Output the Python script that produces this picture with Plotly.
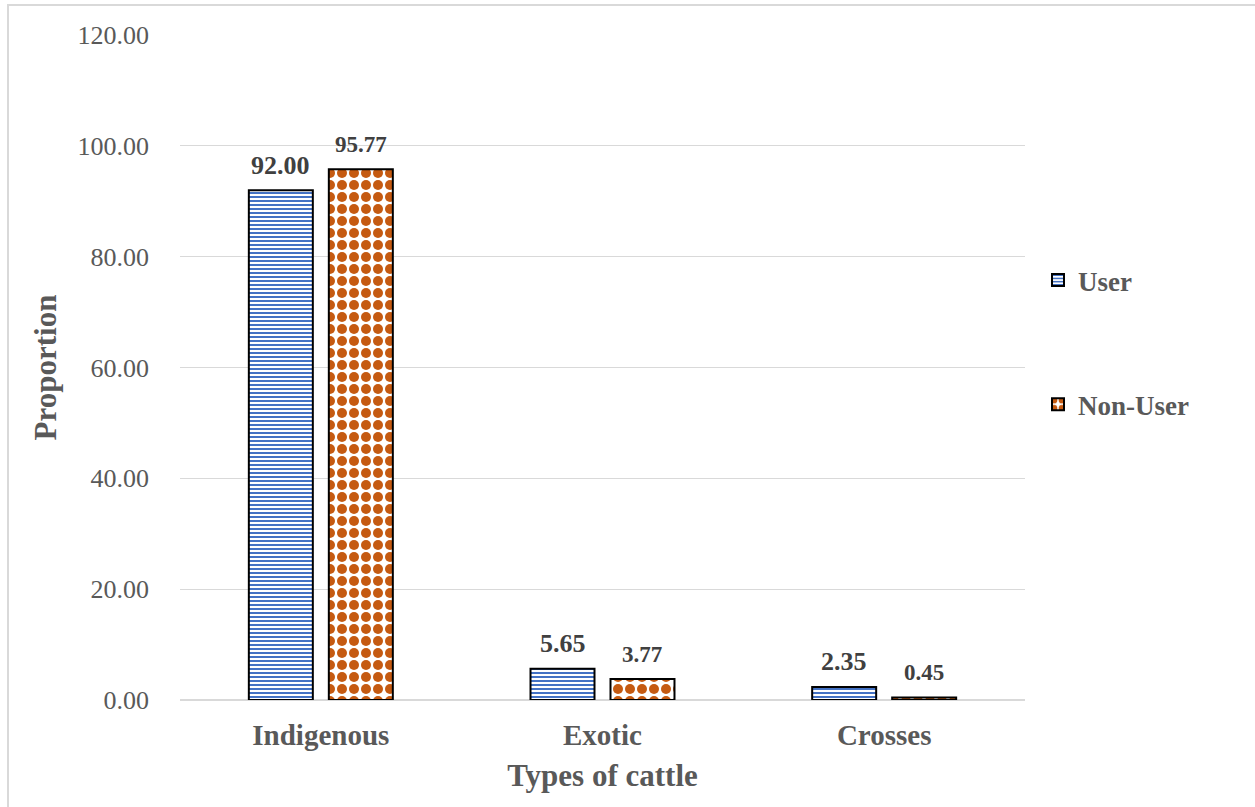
import plotly.graph_objects as go

categories = ["Indigenous", "Exotic", "Crosses"]
user_values = [92.00, 5.65, 2.35]
non_user_values = [95.77, 3.77, 0.45]
y_ticks = [0, 20, 40, 60, 80, 100, 120]

# plot area in pixels
L, R, T, B = 180, 230, 35, 107
W, H = 1255, 807
pw, ph = W - L - R, H - T - B
BARGAP, BARGROUPGAP = 0.432, 0.2


def px_x(x):
    return (x - L) / pw


def px_y(y):
    return (H - B - y) / ph


fig = go.Figure()
fig.add_trace(go.Bar(
    name="User", x=categories, y=user_values,
    legendgroup="u",
    marker=dict(
        color="#4472C4",
        line=dict(color="black", width=2),
        pattern=dict(shape="-", fgcolor="#4472C4", bgcolor="white",
                     size=4, solidity=0.5, fillmode="replace"),
    ),
))
fig.add_trace(go.Bar(
    name="Non-User", x=categories, y=non_user_values,
    legendgroup="n",
    marker=dict(
        color="#C55A11",
        line=dict(color="black", width=2),
        pattern=dict(shape=".", fgcolor="#C55A11", bgcolor="white",
                     size=12, solidity=0.55, fillmode="replace"),
    ),
))

# value labels above each bar, offset to the centre of each bar slot
slot_px = pw / len(categories) * (1 - BARGAP) / 2
for values, shift, size in ((user_values, -slot_px / 2, 26),
                            (non_user_values, slot_px / 2, 23)):
    for cat, v in zip(categories, values):
        fig.add_annotation(
            x=cat, y=v, xref="x", yref="y", text=f"<b>{v:.2f}</b>",
            showarrow=False, xshift=shift, yshift=25, yanchor="middle",
            font=dict(family="Liberation Serif", size=size, color="#404040"),
        )

# light frame around the chart
fig.add_shape(type="rect", xref="paper", yref="paper",
              x0=px_x(8), x1=px_x(1262), y0=px_y(5), y1=px_y(812),
              line=dict(color="#D9D9D9", width=2), layer="below")

fig.update_layout(
    width=W, height=H,
    margin=dict(l=L, r=R, t=T, b=B, pad=0),
    paper_bgcolor="white", plot_bgcolor="white",
    barmode="group", bargap=BARGAP, bargroupgap=BARGROUPGAP,
    font=dict(family="Liberation Serif", color="#595959"),
    showlegend=True,
    legend=dict(
        x=px_x(1038), y=px_y(256), xanchor="left", yanchor="top",
        font=dict(family="Liberation Serif", size=27, color="#595959",
                  weight="bold"),
        tracegroupgap=86, itemwidth=30, bgcolor="rgba(0,0,0,0)",
        traceorder="grouped",
    ),
    xaxis=dict(
        title=dict(text="<b>Types of cattle</b>",
                   font=dict(size=31, color="#595959"), standoff=14),
        tickfont=dict(size=29, color="#595959", weight="bold"),
        showline=False, ticks="", showgrid=False, ticklabelstandoff=15,
    ),
    yaxis=dict(
        title=dict(text="<b>Proportion</b>",
                   font=dict(size=31, color="#595959"), standoff=11),
        range=[0, 120], tickvals=y_ticks,
        ticktext=[f"{v:.2f}" for v in y_ticks],
        tickfont=dict(size=26, color="#595959"),
        showgrid=True, gridcolor="#D9D9D9", gridwidth=1,
        zeroline=True, zerolinecolor="#D9D9D9", zerolinewidth=1.5,
        showline=False, ticks="", ticklabelstandoff=30,
    ),
)

fig.write_html("out.html")
